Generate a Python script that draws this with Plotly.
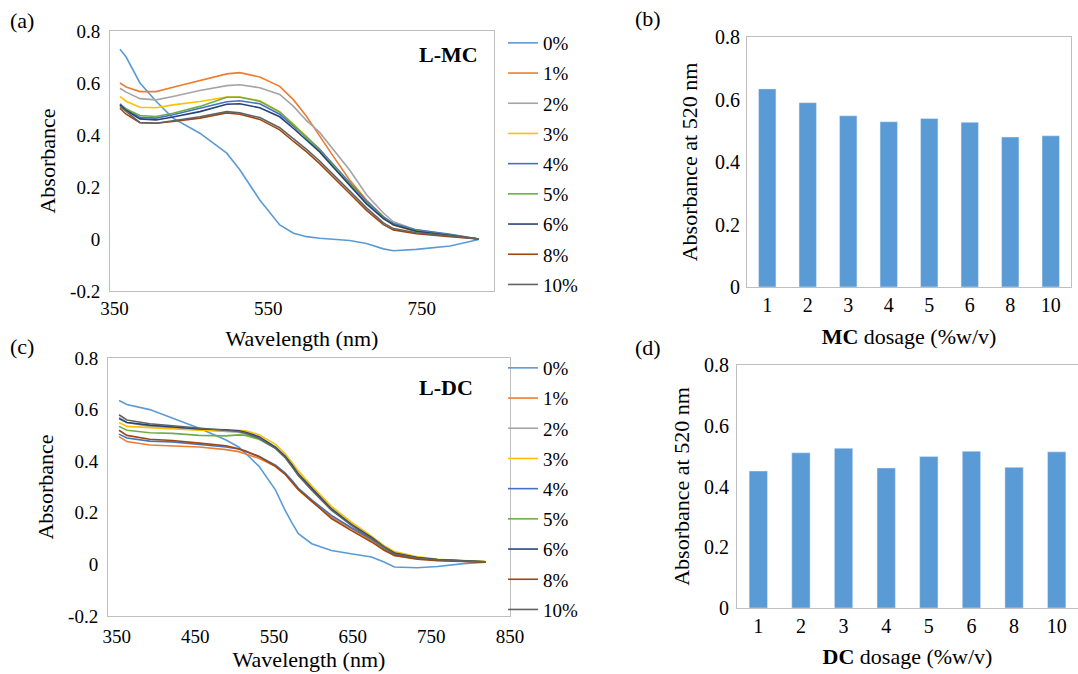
import plotly.graph_objects as go

# ---------------- data ----------------
series_names = ["0%", "1%", "2%", "3%", "4%", "5%", "6%", "8%", "10%"]
series_colors = ["#5B9BD5", "#ED7D31", "#A5A5A5", "#FFC000", "#4472C4",
                 "#70AD47", "#264478", "#9E480E", "#636363"]

# Panel (a) L-MC spectra
wl_mc = [357, 365, 383, 404, 426, 461, 496, 513, 539, 565, 583, 600, 617,
         635, 656, 678, 700, 713, 743, 787, 824]
mc_0 = [0.73, 0.70, 0.60, 0.53, 0.465, 0.407, 0.33, 0.266, 0.15, 0.054, 0.022,
        0.009, 0.003, 0.0, -0.006, -0.017, -0.038, -0.045, -0.04, -0.027, -0.002]
mc_1 = [0.60, 0.585, 0.567, 0.567, 0.584, 0.61, 0.635, 0.64, 0.623, 0.587, 0.535,
        0.471, 0.394, 0.317, 0.227, 0.15, 0.086, 0.054, 0.028, 0.015, 0.0]
mc_2 = [0.58, 0.565, 0.54, 0.535, 0.548, 0.571, 0.59, 0.593, 0.582, 0.556, 0.51,
        0.455, 0.41, 0.343, 0.265, 0.17, 0.10, 0.066, 0.035, 0.016, 0.0]
mc_3 = [0.548, 0.53, 0.507, 0.505, 0.516, 0.529, 0.546, 0.546, 0.532, 0.49, 0.44,
        0.395, 0.345, 0.279, 0.215, 0.14, 0.08, 0.055, 0.031, 0.016, 0.0]
mc_4 = [0.52, 0.50, 0.468, 0.465, 0.478, 0.503, 0.528, 0.532, 0.52, 0.48, 0.435,
        0.39, 0.345, 0.285, 0.215, 0.145, 0.085, 0.06, 0.035, 0.018, 0.0]
mc_5 = [0.516, 0.50, 0.475, 0.471, 0.484, 0.51, 0.545, 0.545, 0.53, 0.488, 0.44,
        0.39, 0.34, 0.28, 0.21, 0.14, 0.08, 0.056, 0.032, 0.016, 0.0]
mc_6 = [0.516, 0.495, 0.462, 0.458, 0.469, 0.49, 0.518, 0.52, 0.505, 0.47, 0.425,
        0.38, 0.335, 0.275, 0.205, 0.135, 0.078, 0.055, 0.03, 0.015, 0.0]
mc_8 = [0.503, 0.48, 0.447, 0.445, 0.452, 0.465, 0.485, 0.48, 0.46, 0.42, 0.375,
        0.335, 0.29, 0.235, 0.175, 0.11, 0.055, 0.035, 0.02, 0.009, 0.0]
mc_10 = [0.51, 0.49, 0.448, 0.445, 0.455, 0.47, 0.49, 0.485, 0.467, 0.428, 0.385,
         0.345, 0.30, 0.245, 0.185, 0.12, 0.062, 0.04, 0.024, 0.012, 0.0]

# Panel (c) L-DC spectra
wl_dc = [353, 363, 392, 421, 455, 489, 505, 514, 531, 552, 564, 573, 581, 598,
         623, 648, 674, 690, 703, 732, 758, 791, 819]
dc_0 = [0.635, 0.62, 0.60, 0.567, 0.528, 0.482, 0.455, 0.43, 0.38, 0.288, 0.21,
        0.16, 0.119, 0.08, 0.054, 0.041, 0.029, 0.009, -0.01, -0.013, -0.008, 0.003, 0.009]
dc_1 = [0.495, 0.476, 0.463, 0.46, 0.455, 0.445, 0.437, 0.428, 0.411, 0.379, 0.35,
        0.318, 0.29, 0.243, 0.184, 0.139, 0.093, 0.06, 0.035, 0.022, 0.016, 0.012, 0.009]
dc_2 = [0.57, 0.55, 0.535, 0.53, 0.522, 0.515, 0.512, 0.505, 0.488, 0.45, 0.418,
        0.385, 0.352, 0.298, 0.22, 0.16, 0.108, 0.07, 0.046, 0.028, 0.019, 0.014, 0.01]
dc_3 = [0.55, 0.535, 0.53, 0.525, 0.52, 0.518, 0.52, 0.518, 0.503, 0.465, 0.43,
        0.395, 0.362, 0.305, 0.225, 0.165, 0.11, 0.072, 0.05, 0.03, 0.02, 0.015, 0.011]
dc_4 = [0.505, 0.49, 0.478, 0.475, 0.465, 0.455, 0.447, 0.438, 0.418, 0.385, 0.355,
        0.325, 0.295, 0.25, 0.19, 0.143, 0.097, 0.063, 0.038, 0.024, 0.017, 0.012, 0.009]
dc_5 = [0.535, 0.52, 0.51, 0.508, 0.50, 0.498, 0.502, 0.50, 0.485, 0.45, 0.415,
        0.38, 0.345, 0.29, 0.212, 0.155, 0.10, 0.065, 0.042, 0.026, 0.018, 0.013, 0.01]
dc_6 = [0.565, 0.55, 0.54, 0.532, 0.525, 0.522, 0.518, 0.512, 0.495, 0.455, 0.42,
        0.385, 0.35, 0.295, 0.215, 0.155, 0.105, 0.068, 0.044, 0.027, 0.019, 0.014, 0.01]
dc_8 = [0.52, 0.50, 0.485, 0.48, 0.47, 0.46, 0.448, 0.44, 0.418, 0.38, 0.35,
        0.318, 0.29, 0.245, 0.178, 0.132, 0.087, 0.055, 0.035, 0.02, 0.014, 0.011, 0.009]
dc_10 = [0.58, 0.56, 0.545, 0.538, 0.527, 0.52, 0.515, 0.508, 0.489, 0.45, 0.415,
         0.379, 0.345, 0.288, 0.21, 0.152, 0.10, 0.065, 0.041, 0.025, 0.018, 0.013, 0.01]

mc_series = [mc_0, mc_1, mc_2, mc_3, mc_4, mc_5, mc_6, mc_8, mc_10]
dc_series = [dc_0, dc_1, dc_2, dc_3, dc_4, dc_5, dc_6, dc_8, dc_10]

# Panels (b) and (d): absorbance at 520 nm
dosages = ["1", "2", "3", "4", "5", "6", "8", "10"]
mc_abs520 = [0.634, 0.590, 0.548, 0.529, 0.539, 0.527, 0.480, 0.484]
dc_abs520 = [0.451, 0.511, 0.526, 0.461, 0.499, 0.516, 0.463, 0.514]

spec_yticks = [-0.2, 0, 0.2, 0.4, 0.6, 0.8]
spec_yticktext = ["-0.2", "0", "0.2", "0.4", "0.6", "0.8"]
bar_yticks = [0, 0.2, 0.4, 0.6, 0.8]
bar_yticktext = ["0", "0.2", "0.4", "0.6", "0.8"]
mc_xticks = [350, 550, 750]
dc_xticks = [350, 450, 550, 650, 750, 850]

# ---------------- figure ----------------
FONT = "Liberation Serif"
BOX = "#BFBFBF"
W, H = 1078, 674

fig = go.Figure()

for name, col, ys in zip(series_names, series_colors, mc_series):
    fig.add_trace(go.Scatter(x=wl_mc, y=ys, mode="lines", name=name,
                             line=dict(color=col, width=1.6),
                             xaxis="x", yaxis="y", legend="legend",
                             legendgroup="a" + name))
for name, col, ys in zip(series_names, series_colors, dc_series):
    fig.add_trace(go.Scatter(x=wl_dc, y=ys, mode="lines", name=name,
                             line=dict(color=col, width=1.6),
                             xaxis="x3", yaxis="y3", legend="legend2",
                             legendgroup="c" + name))

fig.add_trace(go.Bar(x=dosages, y=mc_abs520, marker_color="#5B9BD5",
                     showlegend=False, xaxis="x2", yaxis="y2"))
fig.add_trace(go.Bar(x=dosages, y=dc_abs520, marker_color="#5B9BD5",
                     showlegend=False, xaxis="x4", yaxis="y4"))


def px_x(p):
    return p / W


def px_y(p):
    return 1 - p / H


common_axis = dict(showline=True, linecolor=BOX, linewidth=1, mirror=True,
                   showgrid=False, zeroline=False, ticks="",
                   tickfont=dict(family=FONT, size=19, color="black"),
                   automargin=False)
bar_tick = dict(family=FONT, size=20, color="black")
title_font = dict(family=FONT, size=22, color="black")

fig.update_layout(
    width=W, height=H,
    margin=dict(l=0, r=0, t=0, b=0),
    paper_bgcolor="white", plot_bgcolor="white",
    font=dict(family=FONT, color="black"),
    bargap=0.57,
    xaxis=dict(common_axis, domain=[px_x(110), px_x(494)], range=[344, 844],
               tickvals=mc_xticks, anchor="y",
               title=dict(text="Wavelength (nm)", font=title_font, standoff=12)),
    yaxis=dict(common_axis, domain=[px_y(291), px_y(31)], range=[-0.2, 0.8],
               tickvals=spec_yticks, ticktext=spec_yticktext, anchor="x",
               ticklabelstandoff=5,
               title=dict(text="Absorbance", font=title_font, standoff=8)),
    xaxis3=dict(common_axis, domain=[px_x(108), px_x(510)], range=[339, 850],
                tickvals=dc_xticks, anchor="y3", ticklabelstandoff=3,
                title=dict(text="Wavelength (nm)", font=title_font, standoff=0)),
    yaxis3=dict(common_axis, domain=[px_y(616), px_y(358)], range=[-0.2, 0.8],
                tickvals=spec_yticks, ticktext=spec_yticktext, anchor="x3",
                ticklabelstandoff=5,
                title=dict(text="Absorbance", font=title_font, standoff=8)),
    xaxis2=dict(common_axis, domain=[px_x(747), px_x(1071)], type="category",
                anchor="y2", tickfont=bar_tick,
                title=dict(text="<b>MC</b> dosage (%w/v)", font=title_font, standoff=13)),
    yaxis2=dict(common_axis, domain=[px_y(287), px_y(37)], range=[0, 0.8],
                tickvals=bar_yticks, ticktext=bar_yticktext, anchor="x2",
                tickfont=bar_tick, ticklabelstandoff=2,
                title=dict(text="Absorbance at 520 nm", font=title_font, standoff=11)),
    xaxis4=dict(common_axis, domain=[px_x(737), px_x(1078)], type="category",
                anchor="y4", tickfont=bar_tick,
                title=dict(text="<b>DC</b> dosage (%w/v)", font=title_font, standoff=12)),
    yaxis4=dict(common_axis, domain=[px_y(608), px_y(365)], range=[0, 0.8],
                tickvals=bar_yticks, ticktext=bar_yticktext, anchor="x4",
                tickfont=bar_tick, ticklabelstandoff=3,
                title=dict(text="Absorbance at 520 nm", font=title_font, standoff=8)),
    legend=dict(x=px_x(503), y=px_y(24), xanchor="left", yanchor="top",
                font=dict(family=FONT, size=19, color="black"),
                tracegroupgap=2.5, bgcolor="rgba(0,0,0,0)"),
    legend2=dict(x=px_x(503), y=px_y(349), xanchor="left", yanchor="top",
                 font=dict(family=FONT, size=19, color="black"),
                 tracegroupgap=2.5, bgcolor="rgba(0,0,0,0)"),
)

annots = [
    dict(text="<b>L-MC</b>", x=px_x(448), y=px_y(55)),
    dict(text="<b>L-DC</b>", x=px_x(446), y=px_y(387)),
    dict(text="(a)", x=px_x(22), y=px_y(20)),
    dict(text="(b)", x=px_x(648), y=px_y(18)),
    dict(text="(c)", x=px_x(22), y=px_y(347)),
    dict(text="(d)", x=px_x(648), y=px_y(348)),
]
for a in annots:
    fig.add_annotation(xref="paper", yref="paper", showarrow=False,
                       xanchor="center", yanchor="middle",
                       font=dict(family=FONT, size=22, color="black"), **a)

fig.write_html("out.html", config={"displayModeBar": False},
               post_script="document.body.style.margin='0';document.body.style.overflow='hidden';")
